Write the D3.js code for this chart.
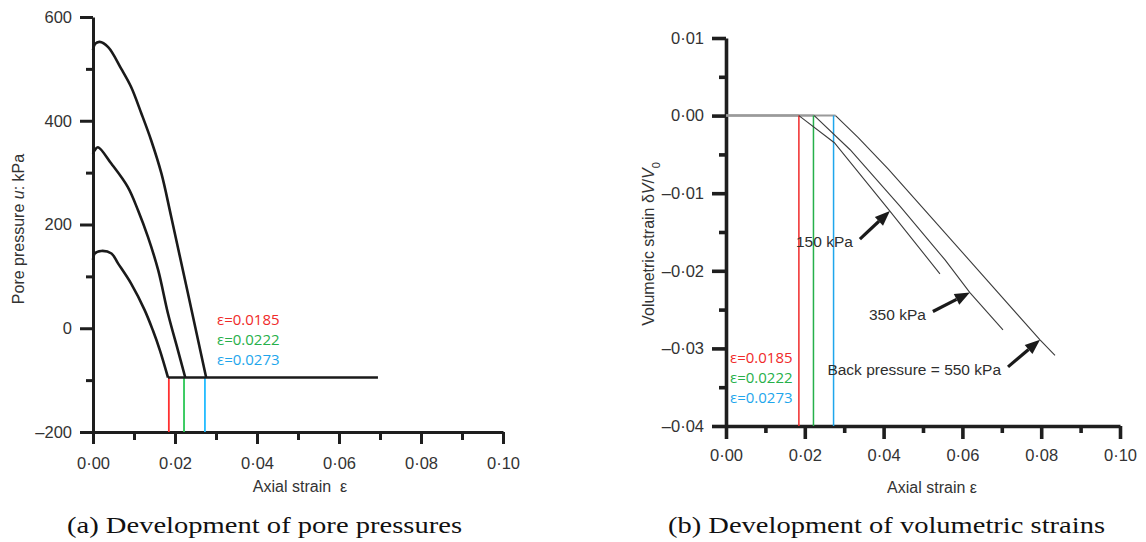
<!DOCTYPE html>
<html>
<head>
<meta charset="utf-8">
<script src="https://cdn.jsdelivr.net/npm/d3@7"></script>
<style>
  body { margin: 0; background: #fff; }
  svg text { font-family: "Liberation Sans", Arial, sans-serif; }
</style>
</head>
<body>
<svg id="fig" width="1146" height="542"></svg>
<script>
// ---------- data ----------
// Panel (a): pore pressure u (kPa) against axial strain, one curve per back pressure
const strainA150 = [0, 0.0004, 0.002, 0.0045, 0.0061, 0.0093, 0.0126, 0.0146, 0.0163, 0.0183];
const poreA150   = [132, 144, 149, 144, 125, 86, 35, -4, -42, -95];
const strainA350 = [0, 0.0004, 0.0012, 0.0045, 0.0085, 0.011, 0.0134, 0.0159, 0.0183, 0.0207, 0.0225];
const poreA350   = [336, 343, 349, 317, 272, 227, 176, 112, 28, -42, -95];
const strainA550 = [0, 0.0005, 0.0016, 0.0037, 0.0069, 0.0093, 0.0118, 0.0142, 0.0167, 0.0191, 0.0276];
const poreA550   = [536, 548, 552, 542, 500, 465, 414, 362, 298, 214, -95];
// common residual (cavitation) level reached by all three tests
const floorStrain = [0.0183, 0.0695];
const floorPore   = [-95, -95];

// Panel (b): volumetric strain dV/V0 against axial strain
const strainB150 = [0, 0.0185, 0.0275, 0.0416, 0.0543];
const volB150    = [0, 0, -0.0035, -0.0123, -0.0204];
const strainB350 = [0, 0.0224, 0.0315, 0.0442, 0.0556, 0.0619, 0.0703];
const volB350    = [0, 0, -0.0044, -0.0117, -0.0186, -0.0228, -0.0276];
const strainB550 = [0, 0.0278, 0.0335, 0.0412, 0.0526, 0.0797, 0.0835];
const volB550    = [0, 0, -0.0028, -0.0069, -0.0134, -0.0289, -0.0309];

// strain at which the pore pressure reaches the residual level
const onsetStrains = [0.0185, 0.0222, 0.0273];
const onsetLabels  = ["ε=0.0185", "ε=0.0222", "ε=0.0273"];
const onsetColors  = ["#f02a2a", "#26b04a", "#1ea6ec"];

// arrow call-outs in panel (b): label, curve index, strain at the arrow tip
const calloutLabels  = ["150 kPa", "350 kPa", "Back pressure = 550 kPa"];
const calloutStrains = [0.0416, 0.0619, 0.0797];

// tick values
const strainTicks      = [0, 0.02, 0.04, 0.06, 0.08, 0.10];
const strainMinorTicks = [0.01, 0.03, 0.05, 0.07, 0.09];
const poreTicks        = [-200, 0, 200, 400, 600];
const poreMinorTicks   = [-100, 100, 300, 500];
const volTicks         = [-0.04, -0.03, -0.02, -0.01, 0, 0.01];
const volMinorTicks    = [-0.035, -0.025, -0.015, -0.005, 0.005];

// ---------- helpers ----------
const svg = d3.select("#fig");
const dash = s => s.replace(/[-\u2212]/g, "\u2013");
const fmtStrain = v => dash(d3.format(".2f")(v)).replace(".", "\u00b7");
const fmtPore = v => dash(d3.format("d")(v));
const pts = (xs, ys) => xs.map((x, i) => [x, ys[i]]);
const AXIS = "#1e1e1e", TICKTXT = "#333";

function styleAxis(g, width, size) {
  g.attr("font-family", null).attr("font-size", null);
  g.selectAll(".domain").attr("stroke", AXIS).attr("stroke-width", width);
  g.selectAll(".tick line").attr("stroke", AXIS).attr("stroke-width", width);
  g.selectAll(".tick text").attr("fill", TICKTXT).style("font-size", size + "px");
}
function addAxis(parent, axisFn, scale, major, minor, fmt, majLen, minLen, pad, width, transform) {
  const g = parent.append("g").attr("transform", transform);
  g.call(axisFn(scale).tickValues(major).tickFormat(fmt).tickSize(majLen).tickPadding(pad).tickSizeOuter(0));
  styleAxis(g, width, 16.5);
  const m = g.append("g").call(axisFn(scale).tickValues(minor).tickFormat("").tickSize(minLen).tickSizeOuter(0));
  m.select(".domain").remove();
  styleAxis(m, width, 16.5);
  return g;
}

// ---------- panel (a) ----------
const xA = d3.scaleLinear([0, 0.1], [93, 503]);
const yA = d3.scaleLinear([-200, 600], [432, 17]);

addAxis(svg, d3.axisBottom, xA, strainTicks, strainMinorTicks, fmtStrain, 12, 8, 13, 3, `translate(0,${yA(-200)})`);
addAxis(svg, d3.axisLeft, yA, poreTicks, poreMinorTicks, fmtPore, 13, 7, 8, 3, `translate(${xA(0)},0)`);

const lineA = d3.line().x(d => xA(d[0])).y(d => yA(d[1]));
const curveA = d3.line().x(d => xA(d[0])).y(d => yA(d[1])).curve(d3.curveCatmullRom.alpha(0.5));

// coloured markers from the residual level down to the axis
onsetStrains.forEach((e, i) => {
  svg.append("path")
    .attr("d", lineA([[e, floorPore[0]], [e, -200]]))
    .attr("stroke", d3.color(onsetColors[i]).brighter(0.35)).attr("stroke-width", 1.8).attr("fill", "none");
});

[[strainA150, poreA150], [strainA350, poreA350], [strainA550, poreA550]].forEach(([xs, ys]) => {
  svg.append("path").attr("d", curveA(pts(xs, ys)))
    .attr("fill", "none").attr("stroke", "#1a1a1a").attr("stroke-width", 2.6)
    .attr("stroke-linejoin", "round");
});
svg.append("path").attr("d", lineA(pts(floorStrain, floorPore)))
  .attr("fill", "none").attr("stroke", "#1a1a1a").attr("stroke-width", 2.6);

onsetLabels.forEach((t, i) => {
  svg.append("text").attr("x", 217).attr("y", 325 + i * 20)
    .style("font-family", "'Open Sans', sans-serif").style("font-size", "15px")
    .attr("fill", onsetColors[i]).text(t);
});

// axis titles (a)
svg.append("text").attr("x", 300).attr("y", 492).attr("text-anchor", "middle")
  .style("font-size", "16px").attr("fill", "#333").attr("xml:space", "preserve")
  .text("Axial strain \u00a0\u03b5");
const ya = svg.append("text").attr("transform", "translate(24,229) rotate(-90)")
  .attr("text-anchor", "middle").style("font-size", "16px").attr("fill", "#333");
ya.append("tspan").text("Pore pressure ");
ya.append("tspan").style("font-style", "italic").text("u");
ya.append("tspan").text(": kPa");

// ---------- panel (b) ----------
const xB = d3.scaleLinear([0, 0.1], [726, 1120]);
const yB = d3.scaleLinear([-0.04, 0.01], [426, 38]);

addAxis(svg, d3.axisBottom, xB, strainTicks, strainMinorTicks, fmtStrain, 13, 7, 10, 3.6, `translate(0,${yB(-0.04)})`);
addAxis(svg, d3.axisLeft, yB, volTicks, volMinorTicks, fmtStrain, 14, 7, 8, 3.6, `translate(${xB(0)},0)`);

const lineB = d3.line().x(d => xB(d[0])).y(d => yB(d[1]));

const seriesB = [[strainB150, volB150], [strainB350, volB350], [strainB550, volB550]];

// flat (no volume change) part of each test, drawn first in grey
seriesB.forEach(([xs, ys]) => {
  svg.append("path").attr("d", lineB(pts(xs.slice(0, 2), ys.slice(0, 2))))
    .attr("fill", "none").attr("stroke", "#9a9a9a").attr("stroke-width", 2);
});

onsetStrains.forEach((e, i) => {
  svg.append("path")
    .attr("d", lineB([[e, 0], [e, -0.04]]))
    .attr("stroke", onsetColors[i]).attr("stroke-width", 1.5).attr("fill", "none");
});

// dilating part of each test
seriesB.forEach(([xs, ys]) => {
  svg.append("path").attr("d", lineB(pts(xs.slice(1), ys.slice(1))))
    .attr("fill", "none").attr("stroke", "#3c3c3c").attr("stroke-width", 1.1);
});

onsetLabels.forEach((t, i) => {
  svg.append("text").attr("x", 730).attr("y", 363 + i * 20)
    .style("font-family", "'Open Sans', sans-serif").style("font-size", "15px")
    .attr("fill", onsetColors[i]).text(t);
});

// arrow call-outs pointing at each curve
const tailOffsets = [[-30, 28], [-37, 19], [-32, 27]];
calloutLabels.forEach((t, i) => {
  const [xs, ys] = seriesB[i];
  const e = calloutStrains[i];
  const v = d3.scaleLinear(xs.slice(1), ys.slice(1))(e);
  const tip = [xB(e), yB(v)];
  const tail = [tip[0] + tailOffsets[i][0], tip[1] + tailOffsets[i][1]];
  const ang = Math.atan2(tip[1] - tail[1], tip[0] - tail[0]);
  const hl = 15, hw = 6;
  const base = [tip[0] - hl * Math.cos(ang), tip[1] - hl * Math.sin(ang)];
  const nx = -Math.sin(ang), ny = Math.cos(ang);
  svg.append("path").attr("d", d3.line()([tail, base]))
    .attr("stroke", "#1a1a1a").attr("stroke-width", 3.2).attr("fill", "none");
  svg.append("path")
    .attr("d", d3.line()([tip, [base[0] + nx * hw, base[1] + ny * hw], [base[0] - nx * hw, base[1] - ny * hw]]) + "Z")
    .attr("fill", "#1a1a1a");
  svg.append("text").attr("x", tail[0] - 7).attr("y", tail[1] + 8)
    .attr("text-anchor", "end").style("font-size", "15.5px").attr("fill", "#2e2e2e").text(t);
});

// axis titles (b)
svg.append("text").attr("x", 932).attr("y", 493).attr("text-anchor", "middle")
  .style("font-size", "16px").attr("fill", "#333").text("Axial strain \u03b5");
const yb = svg.append("text").attr("transform", "translate(654,244) rotate(-90)")
  .attr("text-anchor", "middle").style("font-size", "16px").attr("fill", "#333");
yb.append("tspan").text("Volumetric strain \u03b4");
yb.append("tspan").style("font-style", "italic").text("V");
yb.append("tspan").text("/");
yb.append("tspan").style("font-style", "italic").text("V");
yb.append("tspan").attr("baseline-shift", "sub").style("font-size", "11px").text("0");

// ---------- sub-figure captions ----------
[["(a) Development of pore pressures", 264.5, 395], ["(b) Development of volumetric strains", 886.5, 437]]
  .forEach(([t, cx, w]) => {
    svg.append("text").attr("x", cx).attr("y", 533).attr("text-anchor", "middle")
      .style("font-family", "'Liberation Serif', 'DejaVu Serif', serif").style("font-size", "23px")
      .attr("fill", "#111").attr("textLength", w).attr("lengthAdjust", "spacingAndGlyphs").text(t);
  });
</script>
</body>
</html>
